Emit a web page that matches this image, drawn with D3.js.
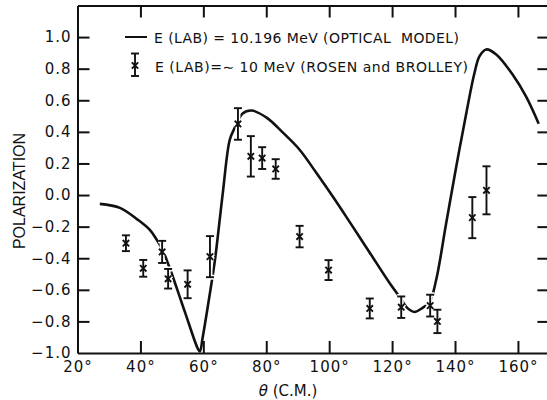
<!DOCTYPE html>
<html>
<head>
<meta charset="utf-8">
<script src="https://cdn.jsdelivr.net/npm/d3@7/dist/d3.min.js"></script>
<style>
  html, body { margin: 0; padding: 0; background: #fff; }
  svg { display: block; }
  text { fill: #111; }
</style>
</head>
<body>
<svg id="chart" width="547" height="400"></svg>
<script>
// Axis ticks
const thetaTicks = [20, 40, 60, 80, 100, 120, 140, 160];
const polTicks = [-1.0, -0.8, -0.6, -0.4, -0.2, 0.0, 0.2, 0.4, 0.6, 0.8, 1.0];

// Measured polarization (Rosen and Brolley), ~10 MeV
const dataTheta = [35.4, 40.9, 46.9, 48.8, 55.0, 62.1, 71.0, 75.1, 78.7, 83.0,
                   90.6, 99.8, 112.9, 122.9, 132.1, 134.4, 145.5, 150.0];
const dataPol   = [-0.305, -0.464, -0.36, -0.53, -0.565, -0.39, 0.45, 0.245, 0.234, 0.165,
                   -0.263, -0.475, -0.718, -0.71, -0.70, -0.80, -0.143, 0.03];
const dataErr   = [0.05, 0.053, 0.07, 0.062, 0.088, 0.13, 0.10, 0.128, 0.069, 0.062,
                   0.068, 0.063, 0.063, 0.068, 0.069, 0.074, 0.13, 0.152];

// Optical model prediction, 10.196 MeV
const curveTheta = [27.1, 33.5, 39.2, 43.0, 45.2, 47.1, 48.7, 50.0, 52.5, 54.4, 58.3, 58.9,
                    59.8, 62.1, 63.7, 65.2, 66.3, 68.4, 70.0, 72.5, 75.3, 80.1, 85.3, 90.6,
                    95.9, 101.2, 106.5, 112.8, 119.2, 122.4, 124.9, 127.1, 129.7, 131.9,
                    134.0, 137.2, 140.4, 143.6, 146.2, 147.8, 149.9, 153.1, 158.3, 162.6, 166.6];
const curvePol   = [-0.056, -0.081, -0.157, -0.221, -0.284, -0.35, -0.43, -0.50, -0.645, -0.755, -0.975, -0.99,
                    -0.90, -0.62, -0.41, -0.157, 0.033, 0.35, 0.427, 0.516, 0.535, 0.49, 0.395, 0.287,
                    0.141, -0.011, -0.17, -0.362, -0.557, -0.646, -0.716, -0.74, -0.714, -0.678,
                    -0.538, -0.177, 0.181, 0.52, 0.774, 0.879, 0.922, 0.89, 0.763, 0.623, 0.452];

const svg = d3.select("#chart");
const x = d3.scaleLinear().domain([20, 170]).range([77.5, 549.4]);
const y = d3.scaleLinear().domain([-1, 1.2]).range([353, 5.5]);

const labelFont = "DejaVu Sans, sans-serif";

// Frame: four axes with inward ticks
const fmtY = d3.format(".1f");
const axLeft = svg.append("g").attr("transform", `translate(${x(20)},0)`)
  .call(d3.axisLeft(y).tickValues(polTicks).tickSize(-12).tickSizeOuter(0).tickPadding(6).tickFormat(fmtY));
const axBottom = svg.append("g").attr("transform", `translate(0,${y(-1)})`)
  .call(d3.axisBottom(x).tickValues(thetaTicks).tickSize(-12).tickSizeOuter(0).tickPadding(8).tickFormat(d => d + "°"));
const axTop = svg.append("g").attr("transform", `translate(0,${y(1.2)})`)
  .call(d3.axisTop(x).tickValues(thetaTicks.slice(1)).tickSize(-12).tickSizeOuter(0).tickFormat(""));
const axRight = svg.append("g").attr("transform", `translate(${x(170)},0)`)
  .call(d3.axisRight(y).tickValues(polTicks.slice(1)).tickSize(-12).tickSizeOuter(0).tickFormat(""));

[axLeft, axBottom, axTop, axRight].forEach(g => {
  g.select(".domain").attr("stroke", "#111").attr("stroke-width", 2);
  g.selectAll(".tick line").attr("stroke", "#111").attr("stroke-width", 2);
  g.selectAll(".tick text").attr("fill", "#111")
    .attr("font-family", labelFont).attr("font-size", 15).attr("letter-spacing", 1);
});
axLeft.selectAll(".tick").filter(d => d === -1).select("line").remove();
axBottom.selectAll(".tick").filter(d => d === 20).select("line").remove();

// Axis titles
svg.append("text")
  .attr("transform", "translate(25,191) rotate(-90)")
  .attr("text-anchor", "middle")
  .attr("font-family", "Liberation Sans, Arial, sans-serif")
  .attr("font-size", 16)
  .text("POLARIZATION");

const xt = svg.append("text")
  .attr("x", 288).attr("y", 396)
  .attr("text-anchor", "middle")
  .attr("font-family", labelFont).attr("font-size", 15);
xt.append("tspan").attr("font-style", "italic").text("θ");
xt.append("tspan").text(" (C.M.)");

// Model curve
const line = d3.line()
  .x((d, i) => x(curveTheta[i]))
  .y(d => y(d))
  .curve(d3.curveCatmullRom.alpha(0.5));
svg.append("path")
  .datum(curvePol)
  .attr("fill", "none")
  .attr("stroke", "#111")
  .attr("stroke-width", 2.6)
  .attr("stroke-linejoin", "round")
  .attr("d", line);

// Error bars with x markers
const cap = 4, mk = 3.2;
function errorBar(g, cx, cy0, cy1, cyc) {
  g.append("line").attr("x1", cx).attr("x2", cx).attr("y1", cy0).attr("y2", cy1);
  g.append("line").attr("x1", cx - cap).attr("x2", cx + cap).attr("y1", cy0).attr("y2", cy0);
  g.append("line").attr("x1", cx - cap).attr("x2", cx + cap).attr("y1", cy1).attr("y2", cy1);
  g.append("line").attr("x1", cx - mk).attr("x2", cx + mk).attr("y1", cyc - mk).attr("y2", cyc + mk);
  g.append("line").attr("x1", cx - mk).attr("x2", cx + mk).attr("y1", cyc + mk).attr("y2", cyc - mk);
}
const halo = svg.append("g").attr("stroke", "#fff").attr("stroke-width", 5);
const bars = svg.append("g").attr("stroke", "#111").attr("stroke-width", 1.9);
dataTheta.forEach((t, i) => {
  const cx = x(t), c = y(dataPol[i]);
  const y0 = y(dataPol[i] + dataErr[i]), y1 = y(dataPol[i] - dataErr[i]);
  errorBar(halo, cx, y0, y1, c);
  errorBar(bars, cx, y0, y1, c);
});

// Legend
svg.append("line").attr("x1", 125).attr("x2", 147).attr("y1", 37).attr("y2", 37)
  .attr("stroke", "#111").attr("stroke-width", 2);
svg.append("text").attr("x", 154).attr("y", 42.5)
  .attr("font-family", labelFont).attr("font-size", 14)
  .attr("textLength", 305).attr("lengthAdjust", "spacing")
  .style("white-space", "pre")
  .text("E (LAB) = 10.196 MeV (OPTICAL  MODEL)");
const lg = svg.append("g").attr("stroke", "#111").attr("stroke-width", 1.9);
errorBar(lg, 135, 53.5, 76, 65.5);
svg.append("text").attr("x", 155).attr("y", 71.5)
  .attr("font-family", labelFont).attr("font-size", 14)
  .attr("textLength", 313).attr("lengthAdjust", "spacing")
  .style("white-space", "pre")
  .text("E (LAB)=∼ 10 MeV (ROSEN and BROLLEY)");
</script>
</body>
</html>
